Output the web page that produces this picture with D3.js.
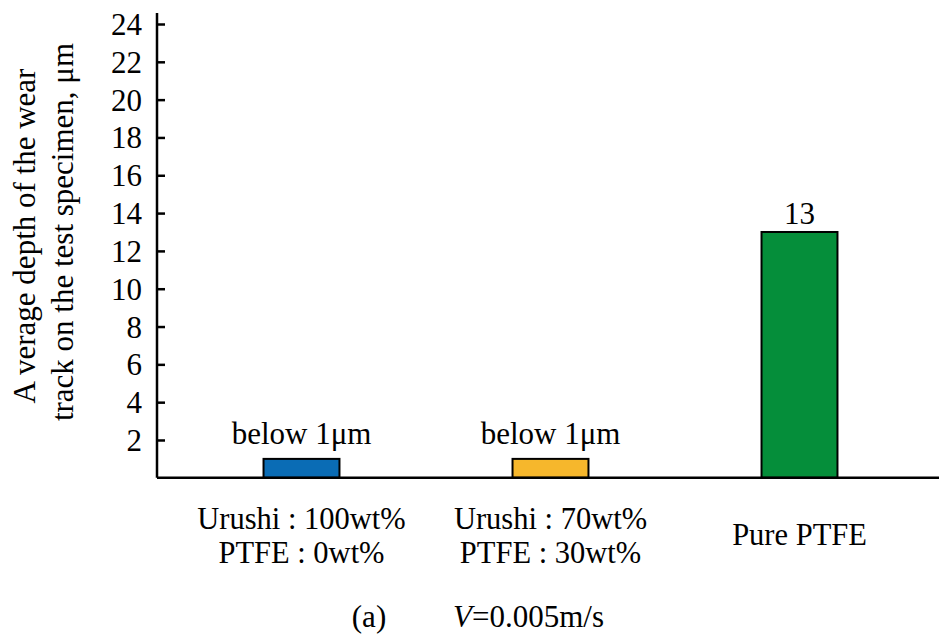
<!DOCTYPE html>
<html>
<head>
<meta charset="utf-8">
<script src="https://cdn.jsdelivr.net/npm/d3@7"></script>
<style>
  body { margin: 0; background: #fff; }
</style>
</head>
<body>
<svg id="chart"></svg>
<script>
// data
var categories = ["c1", "c2", "c3"];
var catLines = [["Urushi : 100wt%", "PTFE : 0wt%"], ["Urushi : 70wt%", "PTFE : 30wt%"], ["Pure PTFE"]];
var depths = [1, 1, 13];
var valueLabels = ["below 1\u03bcm", "below 1\u03bcm", "13"];
var barColors = ["#0a6cb5", "#f6b72c", "#058e3a"];
var yTicks = [2, 4, 6, 8, 10, 12, 14, 16, 18, 20, 22, 24];
var yTitle = ["A verage depth of the wear", "track on the test specimen, \u03bcm"];

var width = 939, height = 636;
var x0 = 157, yBase = 477.8, yTop = 24;
var FONT = "'Liberation Serif', 'Times New Roman', serif";

var svg = d3.select("#chart").attr("width", width).attr("height", height);

var x = d3.scaleBand().domain(categories).range([177, 924]).paddingInner(0.695).paddingOuter(0.3475);
var y = d3.scaleLinear().domain([0, 24]).range([yBase, yTop]);

function txt(sel, size) {
  return sel.attr("font-family", FONT).style("font-family", FONT)
    .style("font-size", size + "px").attr("fill", "#000");
}

// y axis
var yAxis = svg.append("g")
    .attr("transform", "translate(" + x0 + ",0)")
    .call(d3.axisLeft(y).tickValues(yTicks).tickSizeInner(-8).tickSizeOuter(0).tickPadding(15));
yAxis.select(".domain").remove();
yAxis.selectAll(".tick line").attr("stroke", "#000").attr("stroke-width", 2.5);
txt(yAxis.selectAll(".tick text"), 31).attr("dy", "0.34em");

svg.append("line")
    .attr("x1", x0).attr("x2", x0)
    .attr("y1", y(24) - 11).attr("y2", yBase)
    .attr("stroke", "#000").attr("stroke-width", 2.5);

// bars
svg.selectAll("rect.bar")
    .data(depths)
  .enter().append("rect")
    .attr("class", "bar")
    .attr("x", (d, i) => x(categories[i]))
    .attr("y", d => y(d))
    .attr("width", x.bandwidth())
    .attr("height", d => y(0) - y(d))
    .attr("fill", (d, i) => barColors[i])
    .attr("stroke", "#000")
    .attr("stroke-width", 2);

// baseline
svg.append("line")
    .attr("x1", x0).attr("x2", width)
    .attr("y1", yBase).attr("y2", yBase)
    .attr("stroke", "#000").attr("stroke-width", 2.5);

// value labels
txt(svg.selectAll("text.val")
    .data(depths)
  .enter().append("text")
    .attr("class", "val")
    .attr("x", (d, i) => x(categories[i]) + x.bandwidth() / 2)
    .attr("y", d => y(d) - (d < 2 ? 15 : 8))
    .attr("text-anchor", "middle"), 31)
    .text((d, i) => valueLabels[i]);

// category labels
catLines.forEach(function(lines, i) {
  var cx = x(categories[i]) + x.bandwidth() / 2;
  var t = txt(svg.append("text").attr("text-anchor", "middle"), 30.5);
  var startY = lines.length == 1 ? 545 : 529;
  lines.forEach(function(l, j) {
    t.append("tspan").attr("x", cx).attr("y", startY + j * 34).text(l);
  });
});

// y title
txt(svg.append("text")
    .attr("transform", "translate(35,236) rotate(-90)")
    .attr("text-anchor", "middle"), 31)
    .text(yTitle[0]);
txt(svg.append("text")
    .attr("transform", "translate(73,232) rotate(-90)")
    .attr("text-anchor", "middle"), 31)
    .text(yTitle[1]);

// caption
txt(svg.append("text")
    .attr("x", 369).attr("y", 627)
    .attr("text-anchor", "middle"), 31)
    .text("(a)");
var cap = txt(svg.append("text")
    .attr("x", 453).attr("y", 627), 31);
cap.append("tspan").style("font-style", "italic").text("V");
cap.append("tspan").text("=0.005m/s");
</script>
</body>
</html>
